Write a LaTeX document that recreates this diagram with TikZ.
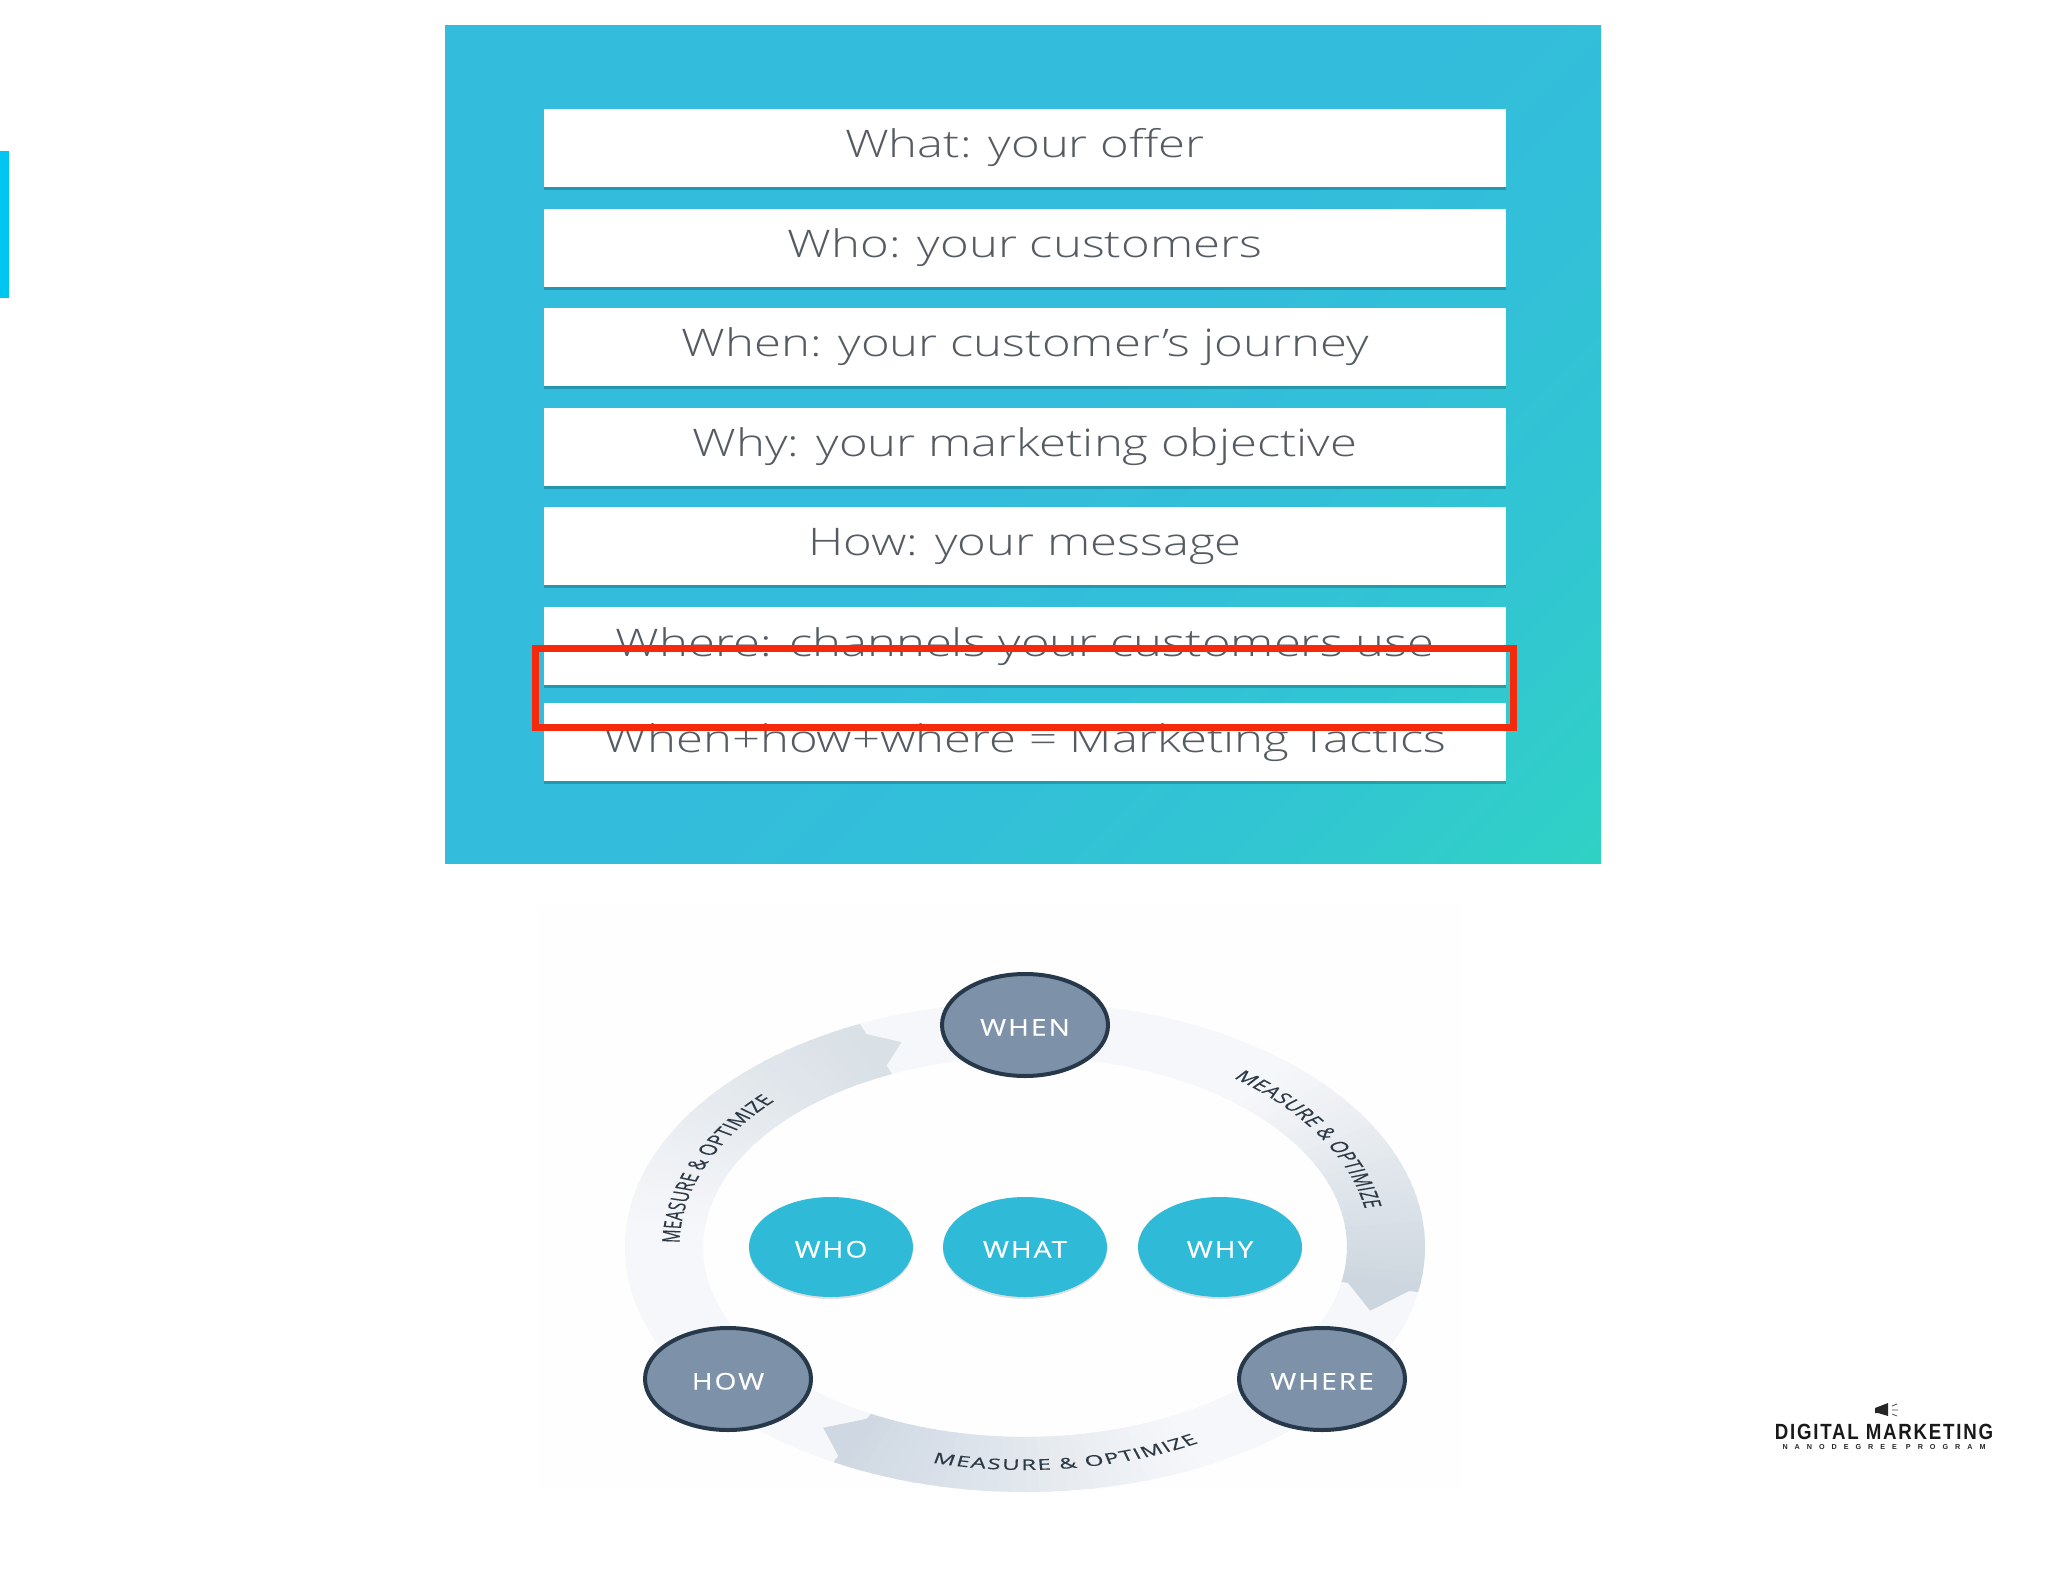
\documentclass[tikz,border=0pt]{standalone}
\usepackage{fontspec}
\usetikzlibrary{shapes.geometric,shadows}
\setmainfont{Open Sans}
\newfontfamily\barfont[FakeStretch=1.29]{Open Sans Light}
\newfontfamily\capfont[FakeStretch=1.22,LetterSpace=9,FakeBold=.4]{Open Sans}
\newfontfamily\lblfont[FakeBold=.3]{Open Sans}
\newfontfamily\logofont[FakeStretch=.85,LetterSpace=8]{Liberation Sans}
\newfontfamily\logosmall[LetterSpace=97]{Liberation Sans}
\definecolor{panelA}{HTML}{33BCDC}
\definecolor{panelB}{HTML}{32C0D8}
\definecolor{panelM}{HTML}{31C6D2}
\definecolor{panelC}{HTML}{30D2C4}
\definecolor{bartext}{HTML}{555B62}
\definecolor{slate}{HTML}{7D92A8}
\definecolor{slateline}{HTML}{26384A}
\definecolor{tealfill}{HTML}{2FBAD8}
\definecolor{ringc}{HTML}{F6F7FA}
\definecolor{bandA}{HTML}{D9E0E6}
\definecolor{bandB}{HTML}{CDD6DF}
\definecolor{bandD}{HTML}{CFD8E2}
\definecolor{labelc}{HTML}{2D3A45}
\definecolor{redbox}{HTML}{F52A0C}
\definecolor{sidebar}{HTML}{00C5F0}
\definecolor{paper}{HTML}{FEFEFE}
\pgfdeclarehorizontalshading{panelgrad}{100bp}{color(0bp)=(panelA); color(50bp)=(panelA); color(62bp)=(panelB); color(73bp)=(panelM); color(86bp)=(panelC); color(100bp)=(panelC)}
\tikzset{
  barbox/.style={rectangle,fill=white,inner sep=0pt,minimum width=481pt,minimum height=39pt,
    text height=15.5pt,text depth=5.5pt,
    drop shadow={shadow xshift=0pt,shadow yshift=-1.5pt,opacity=.25,fill=black!70!teal},
    font=\barfont\fontsize{19}{22}\selectfont,text=bartext},
  slatecirc/.style={ellipse,fill=slate,draw=slateline,line width=2pt,inner sep=0pt,minimum width=83pt,minimum height=51pt,
    text height=10.5pt,text depth=0pt,
    font=\capfont\fontsize{11.5}{13}\selectfont,text=white},
  tealcirc/.style={ellipse,fill=tealfill,inner sep=0pt,minimum width=82pt,minimum height=50pt,
    text height=10.5pt,text depth=0pt,
    drop shadow={shadow xshift=0pt,shadow yshift=-1pt,opacity=.12,fill=black},
    font=\capfont\fontsize{11.5}{13}\selectfont,text=white},
  arcletter/.style={inner sep=0pt,anchor=base,transform shape,text=labelc,font=\lblfont\fontsize{7.4}{9}\selectfont},
}
\newcommand{\bandgrad}[5]{% start angle, next, end angle, tip angle, colour
  \foreach \t [evaluate=\t as \p using {100*(\t-#1)/(#3-#1)}] in {#1,#2,...,#3}{
    \pgfmathsetmacro{\tb}{\t+(#2-#1)*1.3}
    \colorlet{segc}{#5!\p!ringc}
    \fill[segc] ({1025+400*cos(\t)},{1247-245*sin(\t)}) -- ({1025+400*cos(\tb)},{1247-245*sin(\tb)})
      -- ({1025+322*cos(\tb)},{1247-190*sin(\tb)}) -- ({1025+322*cos(\t)},{1247-190*sin(\t)}) -- cycle;
  }
  \fill[#5] ({1025+400*cos(#3)},{1247-245*sin(#3)}) -- ({1025+361*cos(#4)},{1247-218*sin(#4)})
      -- ({1025+322*cos(#3)},{1247-190*sin(#3)}) -- cycle;
}
\def\mlist{M/.9,E/.55,A/.63,S/.55,U/.73,R/.62,E/.55,~/.26,\&/.73,~/.26,O/.78,P/.6,T/.55,I/.28,M/.9,I/.28,Z/.56,E/.55}
% start angle, signed degrees per em, baseline radius, letter rotation offset, name prefix
\newcommand{\arclabel}[5]{%
  \foreach \ch/\w [remember=\tn as \tc (initially #1),count=\i] in \mlist {
    \pgfmathsetmacro{\tm}{\tc+(#2)*\w/2}
    \pgfmathsetmacro{\tn}{\tc+(#2)*\w}
    \node[arcletter,rotate=\tm+#4] (#5\i) at ({#3*cos(\tm)},{-#3*sin(\tm)}) {\ch};
  }
}
\begin{document}
\begin{tikzpicture}[x=.5pt,y=-.5pt]
\useasboundingbox[fill=white] (0,0) rectangle (2048,1582);
% side bar
\fill[sidebar] (0,151) rectangle (9,298);
% panel
\shade[shading=panelgrad,shading angle=315] (445,26) rectangle (1601,863);
\node[barbox] (b1) at (1025,148) {What: your offer};
\node[barbox] (b2) at (1025,248) {Who: your customers};
\node[barbox] (b3) at (1025,347) {When: your customer’s journey};
\node[barbox] (b4) at (1025,447) {Why: your marketing objective};
\node[barbox] (b5) at (1025,546) {How: your message};
\node[barbox] (b6) at (1025,646) {Where: channels your customers use};
\node[barbox] (b7) at (1025,742) {When+how+where = Marketing Tactics};
\draw[redbox,line width=3.5pt] (535,648) rectangle (1513,727);
% lower background
\fill[paper] (537,905) rectangle (1462,1490);
% ring
\fill[ringc,even odd rule] (1025,1247) ellipse [x radius=200pt,y radius=122.5pt]
  (1025,1247) ellipse [x radius=161pt,y radius=95pt];
\bandgrad{175}{173}{117}{110}{bandA}
\bandgrad{50}{48}{-9}{-17}{bandB}
\bandgrad{298}{296}{243}{236}{bandD}
% curved labels
\begin{scope}[shift={(1025,1247)},xscale=1.63]
  \arclabel{179}{-4.15}{212}{-90}{la}
  \arclabel{53}{-4.15}{212}{-90}{lb}
  \arclabel{255}{4.25}{223}{90}{lc}
\end{scope}
% circles
\node[slatecirc] (when) at (1025,1025) {WHEN};
\node[slatecirc] (how) at (728,1379) {HOW};
\node[slatecirc] (where) at (1322,1379) {WHERE};
\node[tealcirc] (who) at (831,1247) {WHO};
\node[tealcirc] (what) at (1025,1247) {WHAT};
\node[tealcirc] (why) at (1220,1247) {WHY};
% logo
\fill[black!85] (1875,1408) -- (1888,1403) -- (1888,1416) -- (1878,1413) -- (1875,1413) -- cycle;
\draw[black!70,line width=.4pt] (1892,1406) -- (1897,1404) (1892,1410) -- (1898,1410) (1892,1414) -- (1897,1416);
\node[inner sep=0pt,font=\logofont\bfseries\fontsize{11}{12}\selectfont,text=black!90] (logo1) at (1884,1432) {DIGITAL MARKETING};
\node[inner sep=0pt,font=\logosmall\bfseries\fontsize{3.6}{5}\selectfont,text=black!85] (logo2) at (1884,1447) {NANODEGREE PROGRAM};
\end{tikzpicture}
\end{document}
